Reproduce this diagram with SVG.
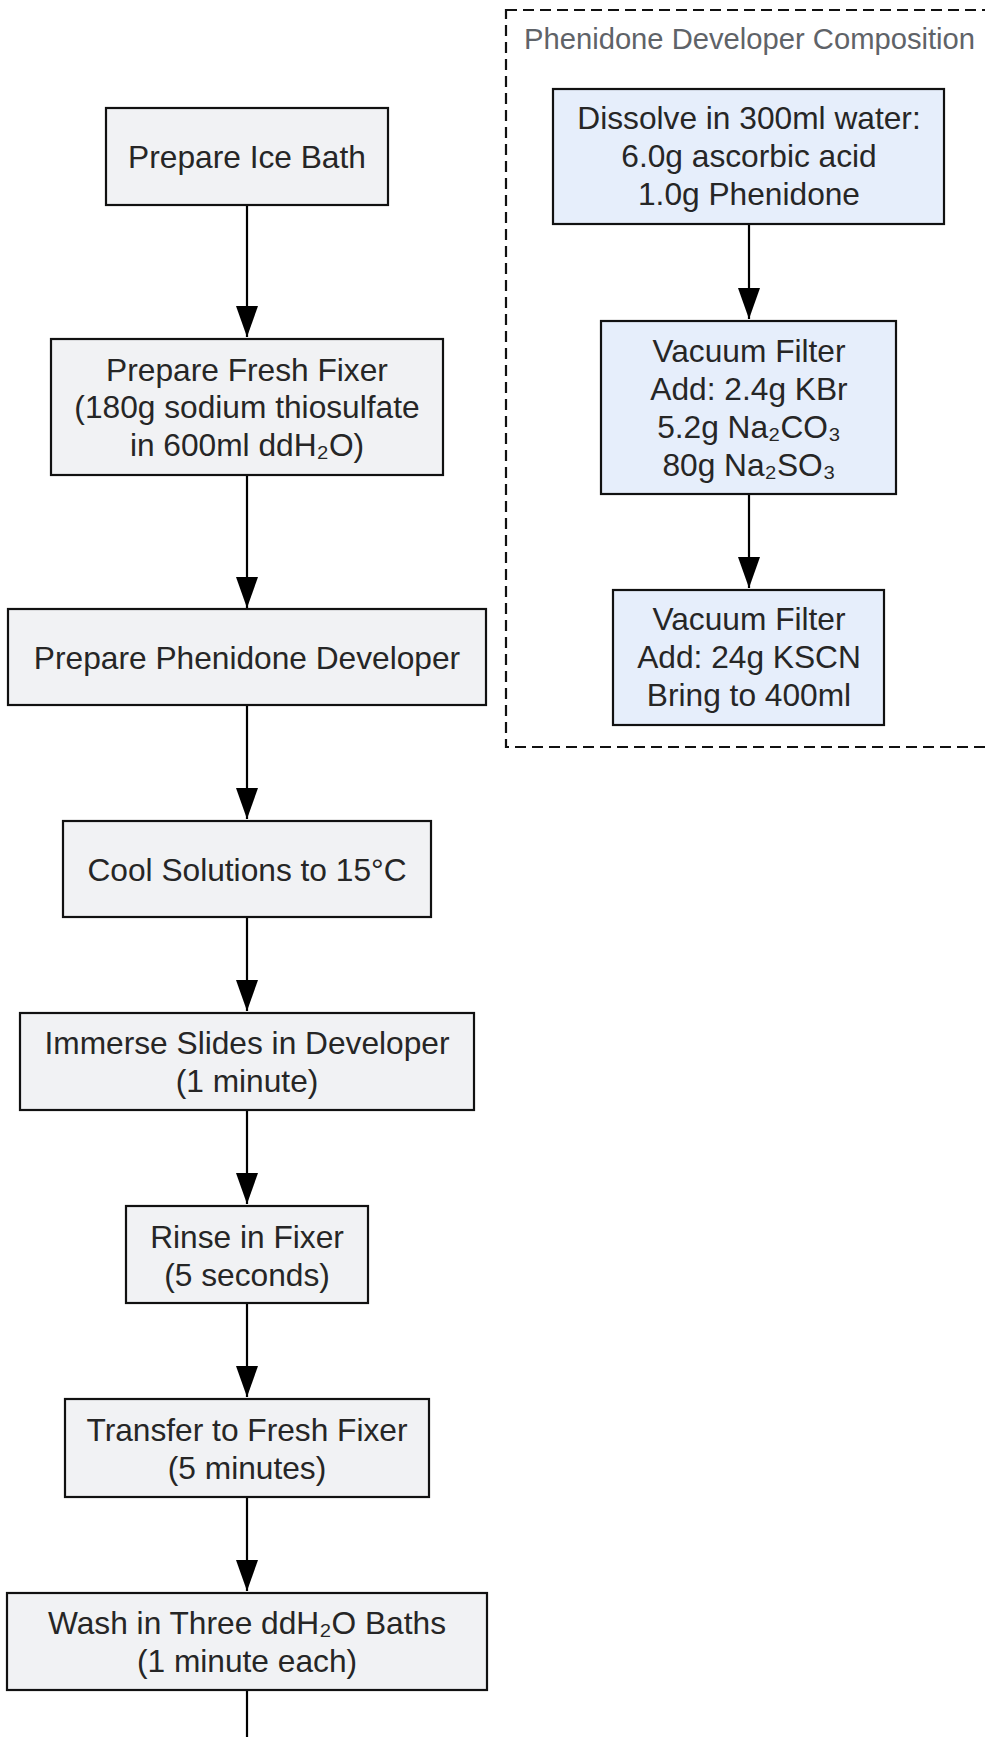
<svg xmlns="http://www.w3.org/2000/svg" width="985" height="1737" viewBox="0 0 985 1737">
<defs>
<style>
.n rect{stroke:#111;stroke-width:2.2}
.g rect{fill:#f1f2f4}
.b rect{fill:#e6eefb}
text{font-family:"Liberation Sans",Arial,sans-serif;font-size:31.7px;fill:#262626;text-anchor:middle}
.c line{stroke:#000;stroke-width:2.2}
.ttl{font-size:29.2px;fill:#5f6368;text-anchor:start}
</style>
<marker id="ah" markerWidth="31" markerHeight="22" refX="31" refY="11" orient="auto" markerUnits="userSpaceOnUse" viewBox="0 0 31 22">
<path d="M0,0 L31,11 L0,22 Z" fill="#000"/>
</marker>
</defs>
<rect width="985" height="1737" fill="#fff"/>
<g id="cluster">
<rect x="506" y="10" width="500" height="737" fill="none" stroke="#111" stroke-width="2.2" stroke-dasharray="11,6"/>
<text class="ttl" x="524" y="49">Phenidone Developer Composition</text>
</g>
<g class="c" id="connectors">
<line x1="247" y1="205" x2="247" y2="337" marker-end="url(#ah)"/>
<line x1="247" y1="475" x2="247" y2="608" marker-end="url(#ah)"/>
<line x1="247" y1="705" x2="247" y2="819" marker-end="url(#ah)"/>
<line x1="247" y1="917" x2="247" y2="1011" marker-end="url(#ah)"/>
<line x1="247" y1="1110" x2="247" y2="1204" marker-end="url(#ah)"/>
<line x1="247" y1="1303" x2="247" y2="1397" marker-end="url(#ah)"/>
<line x1="247" y1="1497" x2="247" y2="1591" marker-end="url(#ah)"/>
<line x1="247" y1="1690" x2="247" y2="1740"/>
<line x1="749" y1="224" x2="749" y2="319" marker-end="url(#ah)"/>
<line x1="749" y1="494" x2="749" y2="588" marker-end="url(#ah)"/>
</g>
<g id="ice" class="n g"><rect x="106" y="108" width="282" height="97"/><text x="247" y="168">Prepare Ice Bath</text></g>
<g id="fixer" class="n g"><rect x="51" y="339" width="392" height="136"/><text x="247" y="381">Prepare Fresh Fixer</text><text x="247" y="418">(180g sodium thiosulfate</text><text x="247" y="456">in 600ml ddH₂O)</text></g>
<g id="devprep" class="n g"><rect x="8" y="609" width="478" height="96"/><text x="247" y="669">Prepare Phenidone Developer</text></g>
<g id="cool" class="n g"><rect x="63" y="821" width="368" height="96"/><text x="247" y="881">Cool Solutions to 15°C</text></g>
<g id="immerse" class="n g"><rect x="20" y="1013" width="454" height="97"/><text x="247" y="1054">Immerse Slides in Developer</text><text x="247" y="1092">(1 minute)</text></g>
<g id="rinse" class="n g"><rect x="126" y="1206" width="242" height="97"/><text x="247" y="1248">Rinse in Fixer</text><text x="247" y="1286">(5 seconds)</text></g>
<g id="transfer" class="n g"><rect x="65" y="1399" width="364" height="98"/><text x="247" y="1441">Transfer to Fresh Fixer</text><text x="247" y="1479">(5 minutes)</text></g>
<g id="wash" class="n g"><rect x="7" y="1593" width="480" height="97"/><text x="247" y="1634">Wash in Three ddH₂O Baths</text><text x="247" y="1672">(1 minute each)</text></g>
<g id="dissolve" class="n b"><rect x="553" y="89" width="391" height="135"/><text x="749" y="129">Dissolve in 300ml water:</text><text x="749" y="167">6.0g ascorbic acid</text><text x="749" y="205">1.0g Phenidone</text></g>
<g id="filter1" class="n b"><rect x="601" y="321" width="295" height="173"/><text x="749" y="362">Vacuum Filter</text><text x="749" y="400">Add: 2.4g KBr</text><text x="749" y="438">5.2g Na₂CO₃</text><text x="749" y="476">80g Na₂SO₃</text></g>
<g id="filter2" class="n b"><rect x="613" y="590" width="271" height="135"/><text x="749" y="630">Vacuum Filter</text><text x="749" y="668">Add: 24g KSCN</text><text x="749" y="706">Bring to 400ml</text></g>
</svg>
